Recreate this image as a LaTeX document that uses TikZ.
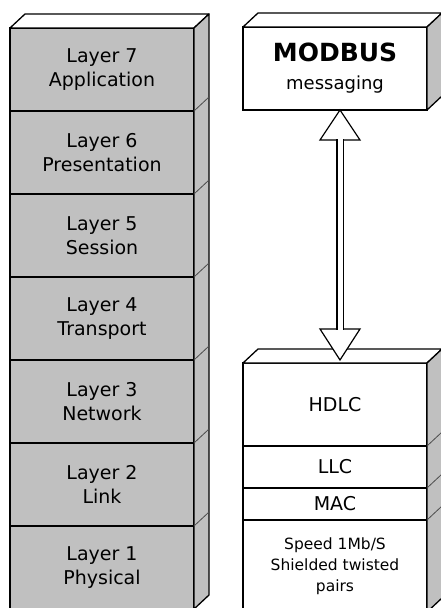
\documentclass[tikz,border=0pt]{standalone}
\usepackage{fontspec}
\setsansfont{DejaVu Sans}
\usetikzlibrary{positioning}
\definecolor{layergray}{RGB}{192,192,192}
\begin{document}
\begin{tikzpicture}[x=1bp, y=-1bp,
    font=\sffamily,
    base/.style={draw, line width=1.3bp, outer sep=0pt, inner sep=0pt, align=center, minimum width=184bp, font={\sffamily\fontsize{19bp}{24bp}\selectfont}},
    osi/.style={base, fill=layergray, minimum height=83bp},
    proto/.style={base, fill=white},
    small/.style={font={\sffamily\fontsize{15.5bp}{21bp}\selectfont}},
    topface/.style={draw, line width=1.3bp, fill=white, line join=round},
    sideface/.style={draw, line width=1.3bp, fill=layergray, line join=round},
    tick/.style={draw, line width=0.8bp, black!70},
    head/.style={draw, line width=1.2bp, fill=white},
    shaft/.style={draw, line width=1.2bp, double=white, double distance=5bp}]

\useasboundingbox (0,0) rectangle (441,608);

\node [osi, anchor=north west] (l7) at (10,28) {Layer 7\\Application};
\node [osi, below=0pt of l7] (l6) {Layer 6\\Presentation};
\node [osi, below=0pt of l6] (l5) {Layer 5\\Session};
\node [osi, below=0pt of l5] (l4) {Layer 4\\Transport};
\node [osi, below=0pt of l4] (l3) {Layer 3\\Network};
\node [osi, below=0pt of l3] (l2) {Layer 2\\Link};
\node [osi, below=0pt of l2] (l1) {Layer 1\\Physical};

\node [proto, anchor=north west, minimum height=83bp, font={\sffamily\fontsize{18bp}{28bp}\selectfont}] (modbus) at (243,27) {{\bfseries\fontsize{25bp}{28bp}\selectfont MODBUS}\\messaging};

\node [proto, anchor=north west, minimum height=83bp] (hdlc) at (243,363) {HDLC};
\node [proto, below=0pt of hdlc, minimum height=42bp] (llc) {LLC};
\node [proto, below=0pt of llc, minimum height=32bp] (mac) {MAC};
\node [proto, small, below=0pt of mac, minimum height=92bp] (phy) {Speed 1Mb/S\\Shielded twisted\\pairs};

\draw [topface] (l7.north west) -- ++(15,-14) -- ([shift={(15,-14)}]l7.north east) -- (l7.north east) -- cycle;
\draw [sideface] (l7.north east) -- ++(15,-14) -- ([shift={(15,-14)}]l1.south east) -- (l1.south east) -- cycle;
\foreach \n in {l7,l6,l5,l4,l3,l2}
  \draw [tick] (\n.south east) -- ++(15,-14);

\draw [topface] (modbus.north west) -- ++(15,-14) -- ([shift={(15,-14)}]modbus.north east) -- (modbus.north east) -- cycle;
\draw [sideface] (modbus.north east) -- ++(15,-14) -- ([shift={(15,-14)}]modbus.south east) -- (modbus.south east) -- cycle;

\draw [topface] (hdlc.north west) -- ++(15,-14) -- ([shift={(15,-14)}]hdlc.north east) -- (hdlc.north east) -- cycle;
\draw [sideface] (hdlc.north east) -- ++(15,-14) -- ([shift={(15,-14)}]phy.south east) -- (phy.south east) -- cycle;
\foreach \n in {hdlc,llc,mac}
  \draw [tick] (\n.south east) -- ++(15,-14);

\coordinate (up) at ([xshift=5bp]modbus.south);
\coordinate (dn) at ([xshift=5bp,yshift=3bp]hdlc.north);
\draw [head] (up) -- ++(-20,30) -- ++(40,0) -- cycle;
\draw [head] (dn) -- ++(-20,-31) -- ++(40,0) -- cycle;
\draw [shaft] ([yshift=-29bp]up) -- ([yshift=30bp]dn);

\end{tikzpicture}
\end{document}
